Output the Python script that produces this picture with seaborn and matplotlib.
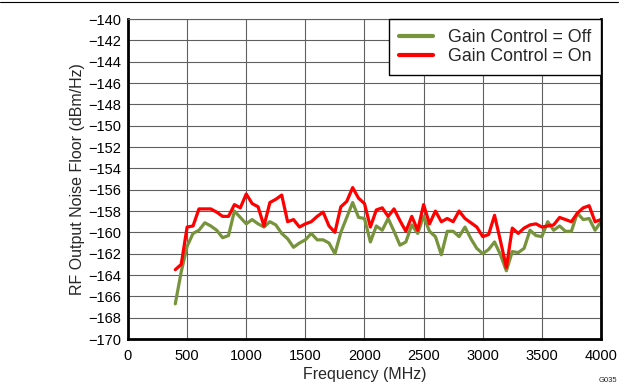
import pandas as pd
import numpy as np
import matplotlib
matplotlib.use("Agg")
import matplotlib.pyplot as plt
import seaborn as sns
from matplotlib.lines import Line2D

# frequency points (MHz), 50 MHz steps
freq = list(range(400, 4001, 50))

# RF output noise floor, gain control off (dBm/Hz)
gain_off = [-166.7, -163.7, -161.3, -160.1, -159.8, -159.1, -159.4, -159.8, -160.5, -160.3,
            -158.0, -158.6, -159.2, -158.8, -159.2, -159.5, -159.0, -159.3, -160.1, -160.6,
            -161.4, -161.0, -160.7, -160.1, -160.7, -160.7, -161.0, -162.0, -160.0, -158.6,
            -157.2, -158.6, -158.7, -160.9, -159.4, -159.8, -158.7, -159.9, -161.2, -160.9,
            -159.3, -160.1, -158.5, -159.9, -160.4, -162.1, -159.9, -159.9, -160.4, -159.5,
            -160.6, -161.5, -162.0, -161.6, -160.9, -162.1, -163.6, -161.8, -161.9, -161.5,
            -159.8, -160.3, -160.4, -159.0, -159.8, -159.4, -159.9, -159.9, -158.2, -158.8,
            -158.7, -159.8, -159.0]

# RF output noise floor, gain control on (dBm/Hz)
gain_on = [-163.5, -163.0, -159.5, -159.4, -157.8, -157.8, -157.8, -158.1, -158.5, -158.5,
           -157.4, -157.7, -156.4, -157.3, -157.6, -159.4, -157.2, -156.9, -156.5, -159.0,
           -158.8, -159.5, -159.2, -159.0, -158.5, -158.1, -159.4, -160.0, -157.6, -157.1,
           -155.8, -156.8, -157.3, -159.5, -157.9, -157.7, -158.5, -157.8, -158.9, -159.9,
           -158.5, -159.8, -157.4, -159.2, -158.0, -159.0, -158.7, -159.0, -158.0, -158.7,
           -159.1, -159.5, -160.4, -160.2, -158.4, -160.8, -163.3, -159.6, -160.1, -159.6,
           -159.3, -159.2, -159.5, -159.4, -159.3, -158.6, -158.8, -159.0, -158.2, -157.7,
           -157.5, -159.0, -158.8]

series_names = ["Gain Control = Off", "Gain Control = On"]
colors = ["#77933C", "#FF0000"]

df = pd.concat([
    pd.DataFrame({"Frequency": freq, "Noise": gain_off, "Series": series_names[0]}),
    pd.DataFrame({"Frequency": freq, "Noise": gain_on, "Series": series_names[1]}),
])

sns.set_style("white")
plt.rcParams["font.family"] = ["Liberation Sans", "DejaVu Sans"]

fig = plt.figure(figsize=(6.4, 3.89), dpi=100)
ax = fig.add_axes([0.2, 0.1285, 0.739, 0.8225])

sns.lineplot(data=df, x="Frequency", y="Noise", hue="Series",
             palette=colors, linewidth=2.3, ax=ax)

ax.set_xlim(0, 4000)
ax.set_ylim(-170, -140)
ax.set_xticks(range(0, 4001, 500))
ax.set_yticks(range(-170, -139, 2))
ax.set_yticklabels([f"\u2212{abs(v)}" for v in range(-170, -139, 2)])
ax.tick_params(length=0, labelsize=10.5, colors="black")
ax.tick_params(axis="y", pad=5)
ax.tick_params(axis="x", pad=7)
ax.grid(True, color="#606060", linewidth=0.8)
ax.set_axisbelow(True)

for side in ["left", "right", "bottom"]:
    ax.spines[side].set_linewidth(2)
    ax.spines[side].set_color("black")
ax.spines["top"].set_linewidth(0.8)
ax.spines["top"].set_color("#606060")

ax.set_xlabel("Frequency (MHz)", fontsize=11.5, labelpad=3)
ax.set_ylabel("RF Output Noise Floor (dBm/Hz)", fontsize=11.5, labelpad=2)

leg = ax.legend(loc="upper right", bbox_to_anchor=(1, 1), borderaxespad=0,
                fontsize=12.8, fancybox=False, framealpha=1, handlelength=1.95,
                handletextpad=0.8, borderpad=0.55, labelspacing=0.12)
leg.get_frame().set_edgecolor("black")
leg.get_frame().set_linewidth(1)
for line in leg.get_lines():
    line.set_linewidth(3)

fig.add_artist(Line2D([0, 0.965], [0.995, 0.995], color="black", linewidth=0.8,
                      transform=fig.transFigure))
fig.text(0.965, 0.012, "G035", fontsize=5.5, ha="right", va="bottom")

fig.savefig("out.png", dpi=100)
